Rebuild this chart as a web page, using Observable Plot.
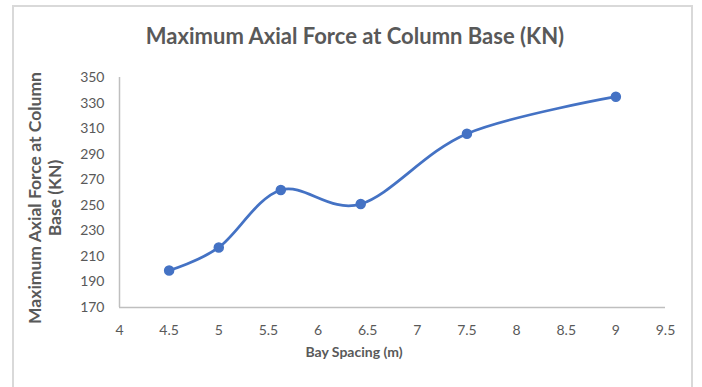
<!DOCTYPE html>
<html>
<head>
<meta charset="utf-8">
<script src="https://cdn.jsdelivr.net/npm/d3@7"></script>
<script src="https://cdn.jsdelivr.net/npm/@observablehq/plot@0.6"></script>
<style>
  html, body { margin: 0; padding: 0; background: #fff; }
  #chart { width: 702px; height: 387px; }
</style>
</head>
<body>
<div id="chart"></div>
<script>
// Bay spacing (m) and maximum axial force at the column base (kN)
const baySpacing = [4.5, 5, 5.625, 6.43, 7.5, 9];
const axialForce = [199, 217, 262, 251, 306, 335];

const xTicks = [4, 4.5, 5, 5.5, 6, 6.5, 7, 7.5, 8, 8.5, 9, 9.5];
const yTicks = [170, 190, 210, 230, 250, 270, 290, 310, 330, 350];

const chartTitle = "Maximum Axial Force at Column Base (KN)";
const xTitle = "Bay Spacing (m)";
const yTitleLines = ["Maximum Axial Force at Column", "Base (KN)"];

const rows = baySpacing.map((x, i) => ({x, y: axialForce[i]}));

const W = 702, H = 387;
const textColor = "#595959";
const lineColor = "#4472C4";
const font = "Lato, 'Open Sans', sans-serif";

const chart = Plot.plot({
  width: W,
  height: H,
  marginLeft: 119,
  marginRight: 37,
  marginTop: 77,
  marginBottom: 80,
  style: {background: "#fff", fontFamily: font, fontSize: "14px", color: textColor},
  x: {domain: [4, 9.5], ticks: xTicks, tickFormat: d => String(d), tickSize: 0, tickPadding: 18, label: null},
  y: {domain: [170, 350], ticks: yTicks, tickFormat: d => String(d), tickSize: 0, tickPadding: 15, label: null},
  marks: [
    Plot.ruleY([170], {stroke: "#bfbfbf", strokeWidth: 1.5}),
    Plot.ruleX([4], {stroke: "#bfbfbf", strokeWidth: 1.5}),
    Plot.line(rows, {x: "x", y: "y", stroke: lineColor, strokeWidth: 2.75, curve: "cardinal", tension: 0}),
    Plot.dot(rows, {x: "x", y: "y", r: 4.5, fill: lineColor, stroke: lineColor})
  ]
});

document.getElementById("chart").appendChild(chart);

const svg = d3.select(chart);

// Chart border (left, top, right edges)
svg.append("path")
  .attr("d", `M13,${H} V6 H692 V${H}`)
  .attr("fill", "none")
  .attr("stroke", "#d9d9d9")
  .attr("stroke-width", 2);

// Title
svg.append("text")
  .attr("x", 355).attr("y", 38)
  .attr("text-anchor", "middle").attr("dominant-baseline", "middle")
  .attr("font-family", font).attr("font-size", 22).attr("font-weight", 700)
  .attr("fill", textColor)
  .text(chartTitle);

// X axis title
svg.append("text")
  .attr("x", 354).attr("y", 353)
  .attr("text-anchor", "middle").attr("dominant-baseline", "middle")
  .attr("font-family", font).attr("font-size", 14).attr("font-weight", 700)
  .attr("fill", textColor)
  .text(xTitle);

// Y axis title, two lines rotated
const yt = svg.append("text")
  .attr("transform", "translate(37,198) rotate(-90)")
  .attr("text-anchor", "middle")
  .attr("font-family", font).attr("font-size", 17.5).attr("font-weight", 700)
  .attr("fill", textColor);
yTitleLines.forEach((line, i) => {
  yt.append("tspan")
    .attr("x", 0).attr("y", i * 20)
    .attr("dominant-baseline", "middle")
    .text(line);
});
</script>
</body>
</html>
